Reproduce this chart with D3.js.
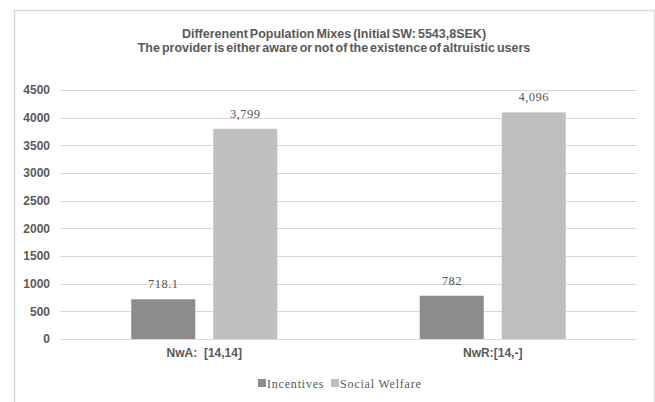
<!DOCTYPE html>
<html><head><meta charset="utf-8">
<script src="https://cdn.jsdelivr.net/npm/d3@7"></script>
<style>body{margin:0;background:#fff;}svg{display:block;}</style>
</head><body>
<script>
const categories = ["NwA:  [14,14]", "NwR:[14,-]"];
const seriesNames = ["Incentives", "Social Welfare"];
const incentives = [718.1, 782];
const socialWelfare = [3799, 4096];
const labelsIncentives = ["718.1", "782"];
const labelsSocial = ["3,799", "4,096"];
const yTicks = [0, 500, 1000, 1500, 2000, 2500, 3000, 3500, 4000, 4500];
const titleLines = ["Differenent Population Mixes (Initial SW: 5543,8SEK)", "The provider is either aware or not of the existence of altruistic users"];

const W = 655, H = 402;
const colors = ["#8c8c8c", "#bfbfbf"];
const svg = d3.select("body").append("svg").attr("width", W).attr("height", H);
svg.append("rect").attr("width", W).attr("height", H).attr("fill", "#fff");
svg.append("path").attr("d", "M14.5,420 L14.5,10.5 L654.5,10.5 L654.5,420")
  .attr("fill", "none").attr("stroke", "#d9d9d9").attr("stroke-width", 1.5);

const x0 = d3.scaleBand().domain(categories).range([60, 637]);
const y = d3.scaleLinear().domain([0, 4500]).range([339, 90]);

svg.append("g").selectAll("line").data(yTicks).join("line")
  .attr("x1", 60).attr("x2", 637)
  .attr("y1", d => Math.round(y(d)) + 0.5).attr("y2", d => Math.round(y(d)) + 0.5)
  .attr("stroke", "#d9d9d9").attr("stroke-width", 1);

const yAxis = d3.axisLeft(y).tickValues(yTicks).tickFormat(d3.format("d")).tickSize(0).tickPadding(0);
const gy = svg.append("g").attr("transform", "translate(50,0)").call(yAxis);
gy.select(".domain").remove();
gy.selectAll("text").attr("font-family", "Liberation Sans, Arial, sans-serif")
  .attr("font-size", 12).attr("font-weight", "bold").attr("fill", "#595959");

const barW = 64, gap = 18;
const data = categories.map((c, i) => ({c, vals: [incentives[i], socialWelfare[i]], labs: [labelsIncentives[i], labelsSocial[i]]}));
const groups = svg.append("g").selectAll("g").data(data).join("g");
groups.each(function(d) {
  const cx = x0(d.c) + x0.bandwidth() / 2;
  const g = d3.select(this);
  d.vals.forEach((v, j) => {
    const left = j === 0 ? cx - gap / 2 - barW : cx + gap / 2;
    g.append("rect").attr("x", left).attr("width", barW)
      .attr("y", y(v)).attr("height", y(0) - y(v)).attr("fill", colors[j]);
    g.append("text").attr("x", left + barW / 2).attr("y", y(v) - 11)
      .attr("text-anchor", "middle").attr("font-family", "Liberation Serif, Times New Roman, serif")
      .attr("font-size", 12.5).attr("letter-spacing", 0.5).attr("fill", "#595959").text(d.labs[j]);
  });
});

const xAxis = d3.axisBottom(x0).tickSize(0).tickPadding(0);
const gx = svg.append("g").attr("transform", "translate(0,348)").call(xAxis);
gx.select(".domain").remove();
gx.selectAll("text").attr("font-family", "Liberation Sans, Arial, sans-serif").style("white-space", "pre")
  .attr("font-size", 12).attr("font-weight", "bold").attr("fill", "#595959").attr("dy", "0.71em");

svg.append("g").selectAll("text").data(titleLines).join("text")
  .attr("x", 334).attr("y", (d, i) => 38 + i * 14)
  .attr("text-anchor", "middle").attr("font-family", "Liberation Sans, Arial, sans-serif")
  .attr("font-size", 12.5).attr("font-weight", "bold").attr("fill", "#595959")
  .attr("word-spacing", -1.5).text(d => d);

const legend = svg.append("g");
const lx = [258, 331];
seriesNames.forEach((s, i) => {
  legend.append("rect").attr("x", lx[i]).attr("y", 379).attr("width", 8).attr("height", 8).attr("fill", colors[i]);
  legend.append("text").attr("x", lx[i] + 9).attr("y", 387.5)
    .attr("font-family", "Liberation Serif, Times New Roman, serif").attr("font-size", 12)
    .attr("letter-spacing", 0.8).attr("fill", "#595959").text(s);
});
</script>
</body></html>
